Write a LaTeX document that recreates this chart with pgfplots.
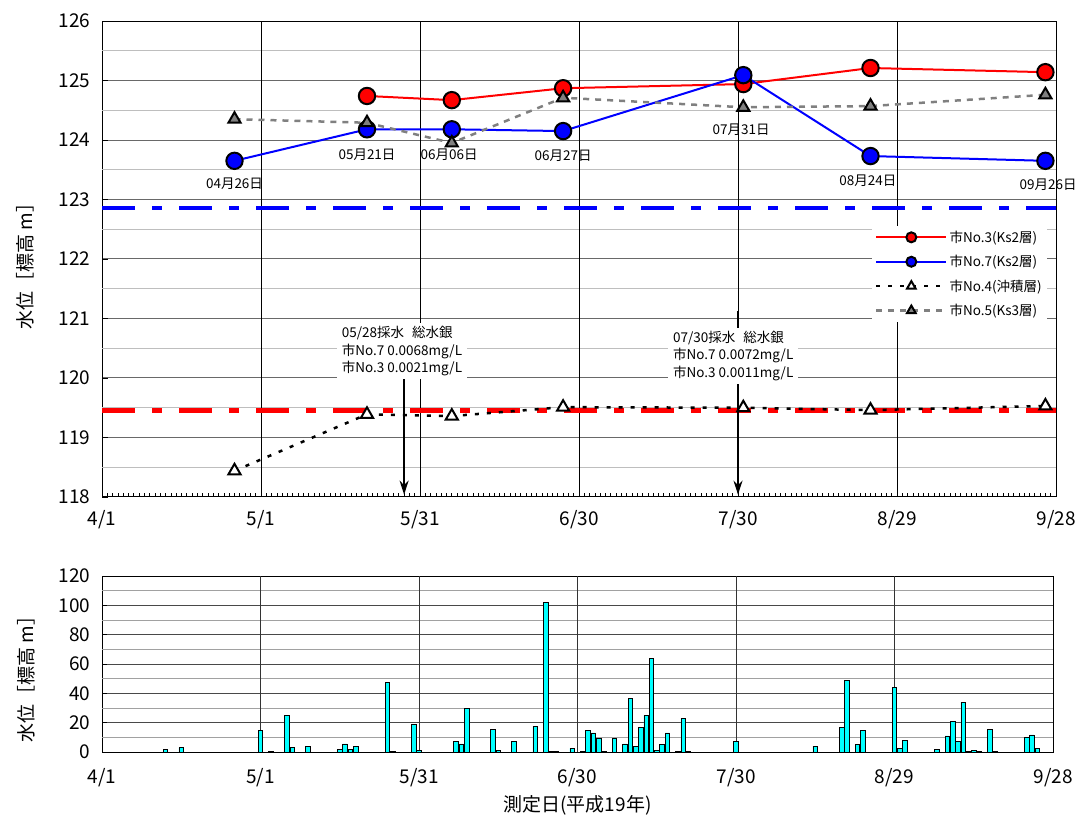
\documentclass[border=0pt]{standalone}
\usepackage{fontspec}
\setmainfont{Noto Sans CJK JP}
\usepackage{pgfplots}
\pgfplotsset{compat=1.18}
\usetikzlibrary{arrows.meta}

\definecolor{mygray}{RGB}{128,128,128}
\definecolor{majgrid}{RGB}{105,105,105}
\definecolor{mingrid}{RGB}{190,190,190}
\definecolor{barcyan}{RGB}{0,255,255}

\pgfplotstableread{
day v
12 2
15 3
30 15
32 0.6
35 25
36 3
39 4
45 2
46 5.5
47 2
48 4
54 47.5
55 0.6
59 19
60 1
67 7
68 5.5
69 30
74 15.5
75 1
78 7
82 17.5
84 102
85 0.6
86 0.6
89 2.5
91 0.6
92 15
93 13
94 9
95 0.6
97 9
99 5.5
100 36.6
101 4
102 17
103 25
104 64
105 1
106 5
107 13
109 0.6
110 23
111 0.6
120 7
135 4
140 17
141 49
143 5
144 15
150 44
151 2.5
152 8
158 2
160 11
161 21
162 7
163 34
164 0.6
165 1
166 0.6
168 15.5
169 0.6
175 10
176 11.6
177 2.5
}\rain

\newcommand{\tickfont}{\fontsize{19}{22}\selectfont}
\newcommand{\smallfont}{\fontsize{13.5}{17.5}\selectfont}

\begin{document}
\begin{tikzpicture}[x=1pt,y=1pt]
\path[use as bounding box] (0pt,0pt) rectangle (1078pt,822pt);

% ---------------- top axis ----------------
\begin{axis}[
  at={(102pt,325pt)}, anchor=south west,
  scale only axis, width=954pt, height=476pt,
  xmin=0, xmax=180, ymin=118, ymax=126,
  clip=false,
  axis line style={black, line width=1pt},
  xtick={0,30,...,180},
  xticklabels={4/1,5/1,5/31,6/30,7/30,8/29,9/28},
  minor xtick={0,1,...,180},
  ytick={118,119,...,126},
  extra y ticks={118.5,119.5,...,125.5},
  extra y tick labels={},
  extra y tick style={major tick length=0pt, ymajorgrids=true, major grid style={mingrid, line width=1pt}},
  tick pos=left, tick align=inside,
  major tick length=6pt, minor tick length=4pt,
  tick style={black, line width=0.8pt},
  ymajorgrids=true,
  major grid style={majgrid, line width=1pt},
  tick label style={font=\tickfont},
  xticklabel style={yshift=-10pt},
  yticklabel style={xshift=-8pt},
  /pgf/number format/assume math mode=true,
  ylabel={水位［標高 m］},
  ylabel style={font=\tickfont, at={(axis description cs:-0.067,0.494)}, anchor=south},
  legend style={at={(0.807,0.570)}, anchor=north west, draw=none, fill=white,
    font=\smallfont, legend cell align=left, row sep=7.5pt, inner xsep=3pt, inner ysep=3pt},
  legend image code/.code={
    \draw[mark repeat=2,mark phase=2,#1,mark size=5pt] plot coordinates {(0pt,0pt) (35pt,0pt) (70pt,0pt)};
  },
]
% vertical grid lines (black)
\pgfplotsinvokeforeach{30,60,90,120,150}{
  \draw[black, line width=1pt] (axis cs:#1,118) -- (axis cs:#1,126);
}
% reference lines
\draw[blue, line width=4.5pt, dash pattern=on 33pt off 17pt on 10pt off 17pt] (axis cs:0,122.86) -- (axis cs:180,122.86);
\draw[red, line width=4.5pt, dash pattern=on 33pt off 17pt on 10pt off 17pt] (axis cs:0,119.45) -- (axis cs:180,119.45);

% arrows
\draw[-{Stealth[length=14pt,width=9pt]}, line width=1.8pt] (axis cs:57,120.8) -- (axis cs:57,118.04);
\draw[-{Stealth[length=14pt,width=9pt]}, line width=1.8pt] (axis cs:120,121.12) -- (axis cs:120,118.04);

\addplot[red, line width=2pt, mark=*, mark size=8.2pt, mark options={fill=red, draw=black, line width=2pt, solid}]
  coordinates {(50,124.74) (66,124.67) (87,124.87) (121,124.94) (145,125.21) (178,125.14)};
\addlegendentry{市No.3(Ks2層)}
\addplot[blue, line width=2pt, mark=*, mark size=8.2pt, mark options={fill=blue, draw=black, line width=2pt, solid}]
  coordinates {(25,123.65) (50,124.18) (66,124.18) (87,124.15) (121,125.09) (145,123.73) (178,123.65)};
\addlegendentry{市No.7(Ks2層)}
\addplot[black, line width=2.5pt, dash pattern=on 4pt off 8pt, mark=triangle*, mark size=7pt, mark options={fill=white, draw=black, line width=2pt, solid}]
  coordinates {(25,118.44) (50,119.39) (66,119.36) (87,119.51) (121,119.50) (145,119.46) (178,119.53)};
\addlegendentry{市No.4(沖積層)}
\addplot[mygray, line width=2.5pt, dash pattern=on 6pt off 6pt, mark=triangle*, mark size=7pt, mark options={fill=mygray, draw=black, line width=2pt, solid}]
  coordinates {(25,124.35) (50,124.29) (66,123.95) (87,124.71) (121,124.55) (145,124.57) (178,124.76)};
\addlegendentry{市No.5(Ks3層)}

% date labels
\node[font=\smallfont] at (axis cs:25,123.26) {04月26日};
\node[font=\smallfont] at (axis cs:50,123.76) {05月21日};
\node[font=\smallfont] at (axis cs:65.5,123.75) {06月06日};
\node[font=\smallfont] at (axis cs:87,123.73) {06月27日};
\node[font=\smallfont] at (axis cs:120.6,124.17) {07月31日};
\node[font=\smallfont] at (axis cs:144.5,123.31) {08月24日};
\node[font=\smallfont] at (axis cs:178.5,123.24) {09月26日};

% annotation boxes
\node[fill=white, align=left, font=\smallfont, inner xsep=5pt, inner ysep=3pt] at (axis cs:56.6,120.45)
  {05/28採水\hspace{0.6em}総水銀\\市No.7 0.0068mg/L\\市No.3 0.0021mg/L};
\node[fill=white, align=left, font=\smallfont, inner xsep=5pt, inner ysep=3pt] at (axis cs:119.1,120.37)
  {07/30採水\hspace{0.6em}総水銀\\市No.7 0.0072mg/L\\市No.3 0.0011mg/L};
\end{axis}

% ---------------- bottom axis ----------------
\begin{axis}[
  at={(102pt,70pt)}, anchor=south west,
  scale only axis, width=951pt, height=176pt,
  xmin=0, xmax=180, ymin=0, ymax=120,
  axis line style={black, line width=1pt},
  xtick={0,30,...,180},
  xticklabels={4/1,5/1,5/31,6/30,7/30,8/29,9/28},
  ytick={0,20,...,120},
  extra y ticks={10,30,...,110},
  extra y tick labels={},
  extra y tick style={major tick length=0pt, ymajorgrids=true, major grid style={mingrid!85!black, line width=1pt}},
  tick pos=left, tick align=inside,
  major tick length=5pt,
  tick style={black, line width=0.8pt},
  ymajorgrids=true,
  major grid style={majgrid!70!black, line width=1pt},
  tick label style={font=\tickfont},
  xticklabel style={yshift=-13pt},
  yticklabel style={xshift=-8pt},
  /pgf/number format/assume math mode=true,
  ylabel={水位［標高 m］},
  ylabel style={font=\tickfont, at={(axis description cs:-0.067,0.44)}, anchor=south},
  xlabel={測定日(平成19年)},
  xlabel style={font=\tickfont, yshift=-2pt},
]
\pgfplotsinvokeforeach{30,60,90,120,150}{
  \draw[black!80, line width=1pt] (axis cs:#1,0) -- (axis cs:#1,120);
}
\addplot[ybar, bar width=4.6pt, fill=barcyan, draw=black, line width=0.7pt] table[x=day, y=v] {\rain};
\end{axis}
\end{tikzpicture}
\end{document}
